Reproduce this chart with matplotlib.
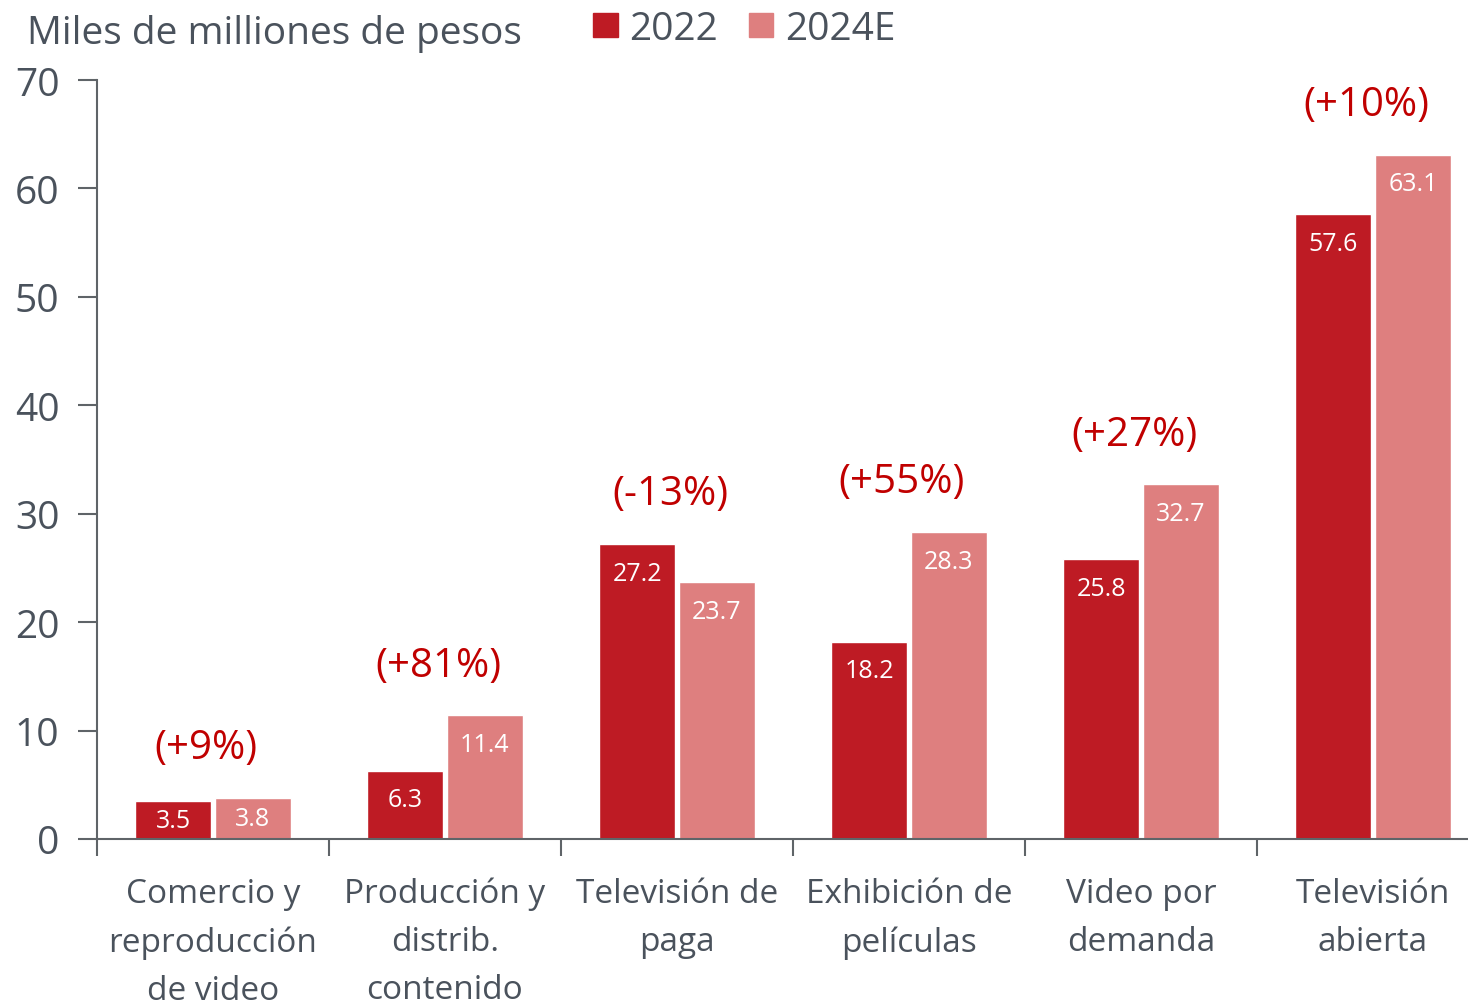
import matplotlib
matplotlib.use("Agg")
import matplotlib.pyplot as plt
import numpy as np
from matplotlib.patches import Patch

plt.rcParams['font.family'] = ['Open Sans', 'DejaVu Sans']

categories = ["Comercio y\nreproducción\nde video", "Producción y\ndistrib.\ncontenido",
              "Televisión de\npaga", "Exhibición de\npelículas", "Video por\ndemanda",
              "Televisión\nabierta"]
values_2022 = [3.5, 6.3, 27.2, 18.2, 25.8, 57.6]
values_2024 = [3.8, 11.4, 23.7, 28.3, 32.7, 63.1]
growth = ["(+9%)", "(+81%)", "(-13%)", "(+55%)", "(+27%)", "(+10%)"]

c_2022 = "#BE1B24"
c_2024 = "#DE7F7F"
text_c = "#4A525C"
axis_c = "#5F6468"
red_txt = "#C00000"

W, H = 1468, 1003
fig = plt.figure(figsize=(W / 100, H / 100), dpi=100)
left, bottom, top = 97, 840, 81
ax = fig.add_axes([left / W, (H - bottom) / H, 1392 / W, (bottom - top) / H])

x = np.arange(len(categories))
bw = 0.33
ax.bar(x - 0.172, values_2022, bw, color=c_2022, edgecolor="white", linewidth=1.0)
ax.bar(x + 0.172, values_2024, bw, color=c_2024, edgecolor="white", linewidth=1.0)

ax.set_xlim(-0.5, 5.5)
ax.set_ylim(0, 70)
px = 70 / (bottom - top)

for xi, v in zip(x - 0.172, values_2022):
    ax.text(xi, max(v - 29 * px, v / 2), f"{v:.1f}", ha="center", va="center",
            color="white", fontsize=18)
for xi, v in zip(x + 0.172, values_2024):
    ax.text(xi, max(v - 29 * px, v / 2), f"{v:.1f}", ha="center", va="center",
            color="white", fontsize=18)

for xi, a, b, g in zip(x, values_2022, values_2024, growth):
    ax.text(xi - 0.03, max(a, b) + 50 * px, g, ha="center", va="center",
            color=red_txt, fontsize=29)

# axes styling
for s in ["top", "right"]:
    ax.spines[s].set_visible(False)
ax.spines["left"].set_color(axis_c)
ax.spines["bottom"].set_color(axis_c)
ax.spines["left"].set_linewidth(1.5)
ax.spines["bottom"].set_linewidth(1.5)

ax.set_yticks(range(0, 71, 10))
ax.tick_params(axis="y", length=14, width=1.5, color=axis_c, labelsize=28,
               labelcolor=text_c, pad=13)
ax.set_xticks(np.arange(-0.5, 5.6, 1))
ax.set_xticklabels([])
ax.tick_params(axis="x", length=12, width=1.5, color=axis_c)
for xi, lab in zip(x, categories):
    ax.text(xi, -3.5, lab, ha="center", va="top", color=text_c, fontsize=24,
            linespacing=1.6)

fig.text(27 / W, 1 - 34 / H, "Miles de milliones de pesos", ha="left", va="center",
         color=text_c, fontsize=28)

handles = [Patch(color=c_2022, label="2022"), Patch(color=c_2024, label="2024E")]
fig.legend(handles=handles, loc="center left", bbox_to_anchor=(574 / W, 1 - 30 / H),
           ncol=2, frameon=False, fontsize=28, labelcolor=text_c, handlelength=0.62,
           handleheight=0.56, handletextpad=0.3, columnspacing=0.8, borderpad=0)

fig.savefig("out.png", dpi=100)
